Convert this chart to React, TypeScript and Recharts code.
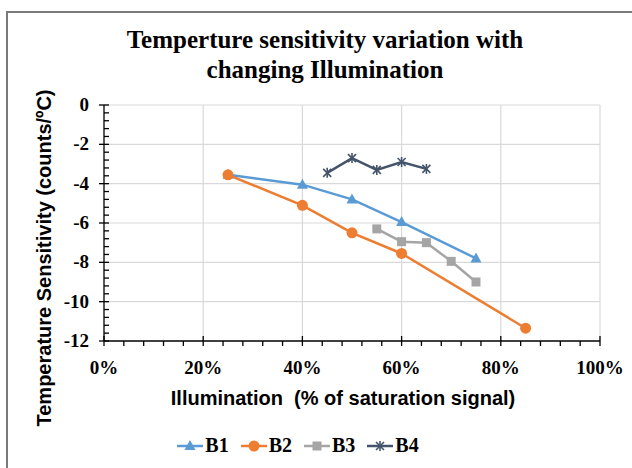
import React from 'react';
import { LineChart, Line, XAxis, YAxis, CartesianGrid } from 'recharts';

// illumination (% of saturation) and temperature sensitivity (counts/ºC) per band
const illumB1 = [25, 40, 50, 60, 75];
const sensB1 = [-3.55, -4.05, -4.8, -5.95, -7.8];
const illumB2 = [25, 40, 50, 60, 85];
const sensB2 = [-3.55, -5.1, -6.5, -7.55, -11.35];
const illumB3 = [55, 60, 65, 70, 75];
const sensB3 = [-6.3, -6.95, -7.0, -7.95, -9.0];
const illumB4 = [45, 50, 55, 60, 65];
const sensB4 = [-3.45, -2.7, -3.3, -2.9, -3.25];

const xMajor = [0, 20, 40, 60, 80, 100];
const yMajor = [-12, -10, -8, -6, -4, -2, 0];
const xTicks = Array.from({ length: 26 }, (_, i) => i * 4);
const yTicks = Array.from({ length: 31 }, (_, i) => Math.round(-120 + i * 4) / 10);

const toPoints = (xs: number[], ys: number[]) => xs.map((x, i) => ({ x, y: ys[i] }));

const serif = '"Liberation Serif", "Times New Roman", serif';
const sans = '"Liberation Sans", Arial, sans-serif';

const Triangle = ({ cx, cy, color }: any) => (
  <polygon points={`${cx},${cy - 6} ${cx - 5.5},${cy + 4} ${cx + 5.5},${cy + 4}`} fill={color} />
);
const Circle = ({ cx, cy, color }: any) => <circle cx={cx} cy={cy} r={5.5} fill={color} />;
const Square = ({ cx, cy, color }: any) => (
  <rect x={cx - 4.5} y={cy - 4.5} width={9} height={9} fill={color} />
);
const Star = ({ cx, cy, color }: any) => (
  <g stroke={color} strokeWidth={1.6}>
    <line x1={cx - 4} y1={cy - 4} x2={cx + 4} y2={cy + 4} />
    <line x1={cx - 4} y1={cy + 4} x2={cx + 4} y2={cy - 4} />
    <line x1={cx} y1={cy - 5} x2={cx} y2={cy + 5} />
  </g>
);

const series = [
  { name: 'B1', color: '#5b9bd5', data: toPoints(illumB1, sensB1), Marker: Triangle },
  { name: 'B2', color: '#ed7d31', data: toPoints(illumB2, sensB2), Marker: Circle },
  { name: 'B3', color: '#a5a5a5', data: toPoints(illumB3, sensB3), Marker: Square },
  { name: 'B4', color: '#44546a', data: toPoints(illumB4, sensB4), Marker: Star },
];

const XTick = (props: any) => {
  const { x, y, payload } = props;
  const v = payload.value;
  const major = xMajor.includes(v);
  return (
    <g>
      <line x1={x} x2={x} y1={major ? y - 5 : y} y2={y + 5} stroke="#000" strokeWidth={1.3} />
      {major && (
        <text x={x} y={y + 33} textAnchor="middle" fontFamily={serif} fontWeight="bold" fontSize={19} fill="#000">
          {v}%
        </text>
      )}
    </g>
  );
};

const YTick = (props: any) => {
  const { x, y, payload } = props;
  const v = payload.value;
  const major = yMajor.includes(v);
  return (
    <g>
      <line x1={major ? x - 5 : x} x2={x + 5} y1={y} y2={y} stroke="#000" strokeWidth={1.3} />
      {major && (
        <text x={x - 15} y={y + 6} textAnchor="end" fontFamily={serif} fontWeight="bold" fontSize={19} fill="#000">
          {v}
        </text>
      )}
    </g>
  );
};

export default function App() {
  return (
    <div style={{ position: 'absolute', left: 0, top: 0, width: 632, height: 468, background: '#fff', overflow: 'hidden' }}>
      <div
        style={{
          position: 'absolute',
          left: 6,
          top: 11,
          width: 626,
          height: 457,
          borderLeft: '2px solid #7a7a7a',
          borderTop: '2px solid #7a7a7a',
          boxSizing: 'border-box',
        }}
      />
      <div
        style={{
          position: 'absolute',
          left: 18,
          top: 25,
          width: 614,
          textAlign: 'center',
          fontFamily: serif,
          fontWeight: 'bold',
          fontSize: 25,
          lineHeight: '30px',
          color: '#000',
        }}
      >
        Temperture sensitivity variation with
        <br />
        changing Illumination
      </div>
      <div style={{ position: 'absolute', left: 0, top: 0 }}>
        <LineChart width={632} height={468} margin={{ top: 105, right: 32, bottom: 87, left: 44 }}>
          <CartesianGrid
            stroke="#d9d9d9"
            strokeWidth={1.2}
            verticalValues={[20, 40, 60, 80, 100]}
            horizontalValues={[-10, -8, -6, -4, -2, 0]}
          />
          <XAxis
            dataKey="x"
            type="number"
            domain={[0, 100]}
            ticks={xTicks}
            interval={0}
            allowDataOverflow
            height={40}
            tickSize={0}
            tickMargin={0}
            tickLine={false}
            tick={<XTick />}
            axisLine={{ stroke: '#000', strokeWidth: 1.3 }}
            label={(p: any) => {
              const vb = p.viewBox;
              return (
                <text
                  x={vb.x + vb.width / 2 - 9}
                  y={vb.y + 64}
                  textAnchor="middle"
                  fontFamily={sans}
                  fontWeight="bold"
                  fontSize={20}
                  fill="#000"
                  style={{ whiteSpace: 'pre' }}
                >
                  {'Illumination  (% of saturation signal)'}
                </text>
              );
            }}
          />
          <YAxis
            type="number"
            domain={[-12, 0]}
            ticks={yTicks}
            interval={0}
            allowDataOverflow
            width={60}
            tickSize={0}
            tickMargin={0}
            tickLine={false}
            tick={<YTick />}
            axisLine={{ stroke: '#000', strokeWidth: 1.3 }}
            label={(p: any) => {
              const vb = p.viewBox;
              const cx = 51;
              const cy = vb.y + vb.height / 2 + 35;
              return (
                <text x={cx} y={cy} transform={`rotate(-90 ${cx} ${cy})`} textAnchor="middle" fontFamily={sans} fontWeight="bold" fontSize={20} fill="#000">
                  Temperature Sensitivity (counts/ºC)
                </text>
              );
            }}
          />
          {series.map((s) => (
            <Line
              key={s.name}
              data={s.data}
              dataKey="y"
              name={s.name}
              stroke={s.color}
              strokeWidth={2.5}
              isAnimationActive={false}
              dot={(d: any) => <s.Marker key={`${s.name}-${d.index}`} cx={d.cx} cy={d.cy} color={s.color} />}
              activeDot={false}
            />
          ))}
        </LineChart>
      </div>
      <div style={{ position: 'absolute', left: 0, top: 434, width: 632, display: 'flex', justifyContent: 'center', paddingRight: 24, boxSizing: 'border-box' }}>
        {series.map((s) => (
          <div key={s.name} style={{ display: 'flex', alignItems: 'center', marginRight: 12 }}>
            <svg width={26} height={14}>
              <line x1={0} x2={26} y1={7} y2={7} stroke={s.color} strokeWidth={2.5} />
              <s.Marker cx={13} cy={7} color={s.color} />
            </svg>
            <span style={{ fontFamily: serif, fontWeight: 'bold', fontSize: 20, marginLeft: 2, color: '#000' }}>
              {s.name}
            </span>
          </div>
        ))}
      </div>
    </div>
  );
}
